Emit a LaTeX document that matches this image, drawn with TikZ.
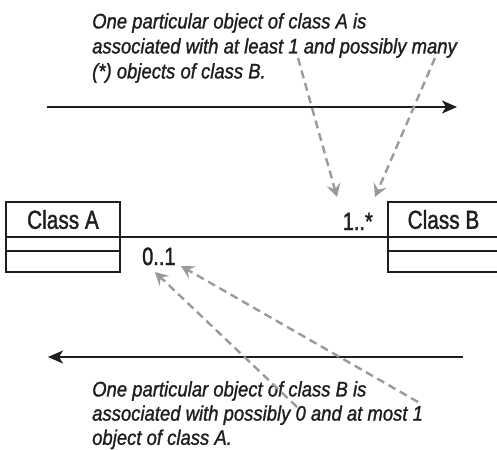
\documentclass[tikz,border=0pt]{standalone}
\usepackage{fontspec}
\setmainfont{Liberation Sans}
\newfontfamily\labelfont{Liberation Sans}[FakeStretch=0.8,FakeBold=1.4]
\newfontfamily\notefont{Liberation Sans}[FakeStretch=0.88,FakeBold=1.2]
\usetikzlibrary{arrows.meta,positioning}
\definecolor{noteline}{HTML}{9A9A9A}
\definecolor{ink}{HTML}{1E1E1E}
\begin{document}
\begin{tikzpicture}[x=1pt,y=-1pt,
  boxline/.style={draw=ink,line width=2pt},
  classhead/.style={boxline,minimum height=35pt,inner sep=0pt,outer sep=0pt,
    font=\labelfont\fontsize{26}{30}\selectfont,text=ink},
  compart/.style={boxline,inner sep=0pt,outer sep=0pt},
  mult/.style={inner sep=0pt,font=\labelfont\fontsize{25}{30}\selectfont,text=ink},
  note/.style={inner sep=0pt,align=left,text=ink,
    font=\notefont\itshape\fontsize{21}{25}\selectfont},
  direction/.style={draw=ink,line width=2pt,-{Stealth[length=15pt,width=13pt,inset=4pt]}},
  pointer/.style={draw=noteline,line width=2.4pt,dash pattern=on 8pt off 5pt,
    -{Stealth[length=13pt,width=14pt,inset=5pt]}}
]
\useasboundingbox (0,0) rectangle (497,449);

% class A with its two empty compartments
\node[classhead,minimum width=114pt] (A) at (63,219.5) {Class A};
\node[compart,minimum width=114pt,minimum height=14pt,anchor=north] (A1) at (A.south) {};
\node[compart,minimum width=114pt,minimum height=21pt,anchor=north] (A2) at (A1.south) {};

% class B, running past the right edge
\node[classhead,minimum width=111pt] (B) at (443.5,219.5) {Class B};
\node[compart,minimum width=111pt,minimum height=14pt,anchor=north] (B1) at (B.south) {};
\node[compart,minimum width=111pt,minimum height=21pt,anchor=north] (B2) at (B1.south) {};

% the association and its multiplicities
\draw[boxline] (A.south east) -- (B.south west);
\node[mult,anchor=base west] (mA) at (142,265) {0..1};
\node[mult,anchor=base east] (mB) at (373,230) {1..*};

% reading directions
\coordinate (r1) at (47,107);
\coordinate (r2) at (457,107);
\draw[direction] (r1) -- (r2);
\coordinate (l1) at (463,357);
\coordinate (l2) at (48,357);
\draw[direction] (l1) -- (l2);

% explanations
\node[note,anchor=north west] (nA) at (92,13)
  {One particular object of class A is\\
   associated with at least 1 and possibly many\\
   (*) objects of class B.};
\node[note,anchor=north west,font=\notefont\itshape\fontsize{21}{24.2}\selectfont] (nB) at (92,381)
  {One particular object of class B is\\
   associated with possibly 0 and at most 1\\
   object of class A.};

% pointers from the explanations to the multiplicities
\coordinate (pa1) at (298,58);
\coordinate (pa2) at (435,58);
\coordinate (ta1) at (337,197);
\coordinate (ta2) at (375,197);
\draw[pointer] (pa1) -- (ta1);
\draw[pointer] (pa2) -- (ta2);
\coordinate (pb1) at (297,407);
\coordinate (pb2) at (418,402);
\coordinate (tb1) at (155,272);
\coordinate (tb2) at (181,266);
\draw[pointer] (pb1) -- (tb1);
\draw[pointer] (pb2) -- (tb2);
\end{tikzpicture}
\end{document}
